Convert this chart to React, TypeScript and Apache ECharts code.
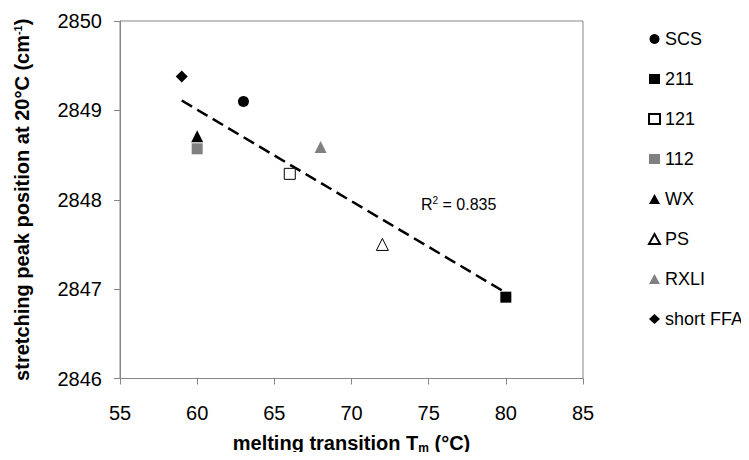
import React, { useEffect, useRef } from "react";
import * as echarts from "echarts";

const seriesNames = ["SCS", "211", "121", "112", "WX", "PS", "RXLI", "short FFA"];
const tmValues = [63, 80, 66, 60, 60, 72, 68, 59];
const peakValues = [2849.1, 2846.91, 2848.29, 2848.57, 2848.71, 2847.5, 2848.59, 2849.38];
const trendX = [59, 80];
const trendY = [2849.11, 2846.96];
const xTicks = [55, 60, 65, 70, 75, 80, 85];
const yTicks = [2846, 2847, 2848, 2849, 2850];
const r2Text = "0.835";

const symbols = ["circle", "rect", "rect", "rect", "triangle", "triangle", "triangle", "diamond"];
const symbolSizes = [11, 11, 11, 11, 12, 12, 12, 12];
const fills = ["#000", "#000", "#fff", "#808080", "#000", "#fff", "#808080", "#000"];
const borders = ["#000", "#000", "#000", "#808080", "#000", "#000", "#808080", "#000"];

const FONT = "'Liberation Sans', Arial, sans-serif";
const AXIS_COLOR = "#868686";

export default function App() {
  const ref = useRef<HTMLDivElement>(null);
  useEffect(() => {
    if (!ref.current) return;
    const chart = echarts.init(ref.current, undefined, { renderer: "svg" });
    const scatterSeries = seriesNames.map((name, i) => ({
      type: "scatter",
      name,
      symbol: symbols[i],
      symbolSize: symbolSizes[i],
      itemStyle: {
        color: fills[i],
        borderColor: borders[i],
        borderWidth: fills[i] === "#fff" ? 1 : 0,
        opacity: 1,
      },
      data: [[tmValues[i], peakValues[i]]],
      z: 3,
    }));
    chart.setOption({
      animation: false,
      grid: {
        left: 120,
        top: 21,
        right: 166,
        bottom: 81.5,
        show: true,
        borderColor: AXIS_COLOR,
        borderWidth: 1,
      },
      legend: {
        data: seriesNames,
        orient: "vertical",
        left: 643,
        top: 25,
        itemWidth: 11,
        itemHeight: 10,
        itemGap: 22,
        textStyle: { fontFamily: FONT, fontSize: 18, color: "#000", lineHeight: 18 },
      },
      xAxis: {
        type: "value",
        min: xTicks[0],
        max: xTicks[xTicks.length - 1],
        interval: 5,
        axisLine: { show: true, lineStyle: { color: AXIS_COLOR } },
        axisTick: { show: true, length: 6, lineStyle: { color: AXIS_COLOR } },
        splitLine: { show: false },
        axisLabel: { fontFamily: FONT, fontSize: 20, color: "#000", margin: 24 },
        name: "{b|melting transition T}{sub|m}{b| (°C)}",
        nameLocation: "middle",
        nameGap: 54,
        nameTextStyle: {
          rich: {
            b: { fontFamily: FONT, fontSize: 20, fontWeight: "bold", color: "#000" },
            sub: { fontFamily: FONT, fontSize: 12, fontWeight: "bold", color: "#000", padding: [9, 0, 0, 0] },
          },
        },
      },
      yAxis: {
        type: "value",
        min: yTicks[0],
        max: yTicks[yTicks.length - 1],
        interval: 1,
        axisLine: { show: true, lineStyle: { color: AXIS_COLOR } },
        axisTick: { show: true, length: 6, lineStyle: { color: AXIS_COLOR } },
        splitLine: { show: false },
        axisLabel: {
          fontFamily: FONT,
          fontSize: 20,
          color: "#000",
          margin: 18,
          formatter: (v: number) => String(v),
        },
        name: "{b|stretching peak position at 20°C (cm}{sup|-1}{b|)}",
        nameLocation: "middle",
        nameRotate: 90,
        nameGap: 88,
        nameTextStyle: {
          rich: {
            b: { fontFamily: FONT, fontSize: 20, fontWeight: "bold", color: "#000" },
            sup: { fontFamily: FONT, fontSize: 11, fontWeight: "bold", color: "#000", padding: [0, 0, 9, 0] },
          },
        },
      },
      graphic: [
        {
          type: "text",
          left: 421,
          top: 195,
          style: {
            text: "{a|R}{s|2}{a| = " + r2Text + "}",
            rich: {
              a: { fontFamily: FONT, fontSize: 16, fill: "#000" },
              s: { fontFamily: FONT, fontSize: 10, fill: "#000", padding: [0, 0, 8, 0] },
            },
          },
        },
      ],
      series: [
        {
          type: "line",
          name: "trend",
          data: trendX.map((x, i) => [x, trendY[i]]),
          showSymbol: false,
          symbol: "none",
          lineStyle: { color: "#000", width: 2.5, type: [12, 6] },
          z: 2,
        },
        ...scatterSeries,
      ],
    });
    return () => chart.dispose();
  }, []);
  return <div ref={ref} style={{ width: 749, height: 460, margin: -8 }} />;
}
